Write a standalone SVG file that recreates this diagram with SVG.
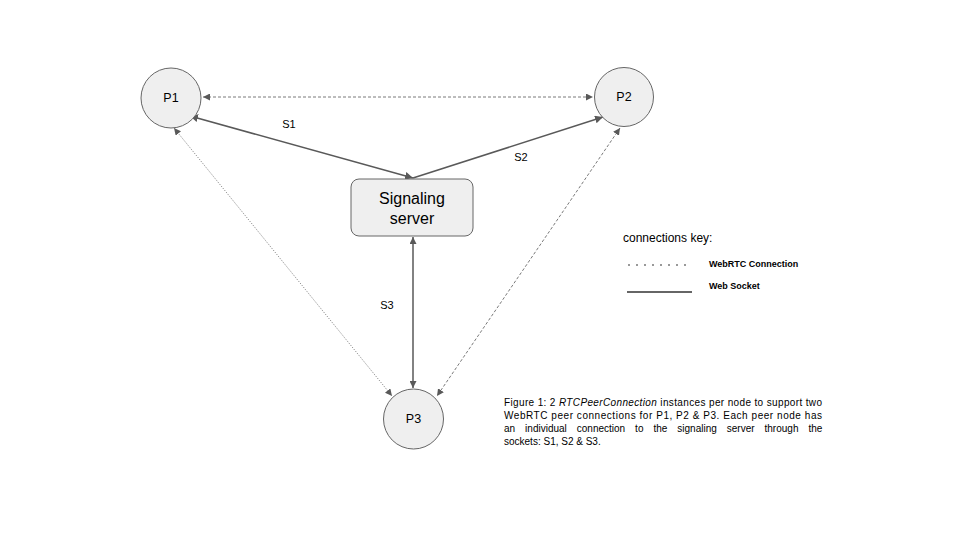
<svg xmlns="http://www.w3.org/2000/svg" width="960" height="540" viewBox="0 0 960 540">
<defs>
<style>
.node{fill:#efefef;stroke:#666;stroke-width:1}
.lbl{font-family:"Liberation Sans",Arial,sans-serif;fill:#000}
.ws{stroke:#595959;stroke-width:1.5;fill:none}
.rtc{stroke:#7a7a7a;stroke-width:1;fill:none;stroke-dasharray:3 2}
.rtc2{stroke:#7a7a7a;stroke-width:1;fill:none;stroke-dasharray:1 1.5}
</style>
<marker id="ah" viewBox="0 0 10 10" refX="10" refY="5" markerWidth="7" markerHeight="7" markerUnits="userSpaceOnUse" orient="auto-start-reverse">
<path d="M0,0 L10,5 L0,10 z" fill="#595959"/>
</marker>
<marker id="ahs" viewBox="0 0 10 10" refX="10" refY="5" markerWidth="8" markerHeight="8" markerUnits="userSpaceOnUse" orient="auto-start-reverse">
<path d="M0,0 L10,5 L0,10 z" fill="#595959"/>
</marker>
</defs>
<rect width="960" height="540" fill="#fff"/>
<g id="connectors">
<line class="rtc" x1="203" y1="97" x2="593" y2="97" marker-start="url(#ah)" marker-end="url(#ah)"/>
<line class="rtc2" x1="174" y1="128" x2="392" y2="396" marker-start="url(#ah)" marker-end="url(#ah)"/>
<line class="rtc" x1="620" y1="128" x2="437" y2="396" marker-start="url(#ah)" marker-end="url(#ah)"/>
<line class="ws" x1="190" y1="116" x2="413" y2="178" marker-start="url(#ahs)" marker-end="url(#ahs)"/>
<line class="ws" x1="413" y1="178" x2="603" y2="117" marker-end="url(#ahs)"/>
<line class="ws" x1="413" y1="237" x2="413" y2="388" stroke-width="1.2" marker-start="url(#ah)" marker-end="url(#ah)"/>
<text class="lbl" x="289" y="128" font-size="11" text-anchor="middle">S1</text>
<text class="lbl" x="521" y="161" font-size="11" text-anchor="middle">S2</text>
<text class="lbl" x="387" y="309" font-size="11" text-anchor="middle">S3</text>
</g>
<g id="P1">
<circle class="node" cx="171" cy="98" r="30"/>
<text class="lbl" x="171" y="102" font-size="12.5" text-anchor="middle">P1</text>
</g>
<g id="P2">
<circle class="node" cx="624" cy="97" r="29.5"/>
<text class="lbl" x="624" y="101" font-size="12.5" text-anchor="middle">P2</text>
</g>
<g id="P3">
<circle class="node" cx="413.5" cy="419" r="30"/>
<text class="lbl" x="413.5" y="423" font-size="12.5" text-anchor="middle">P3</text>
</g>
<g id="server">
<rect class="node" x="351" y="179" width="122" height="57" rx="8"/>
<text class="lbl" x="412" y="204" font-size="16" text-anchor="middle">Signaling</text>
<text class="lbl" x="412" y="224" font-size="16" text-anchor="middle">server</text>
</g>
<g id="legend">
<text class="lbl" x="623" y="242" font-size="12">connections key:</text>
<line x1="628" y1="265" x2="688" y2="265" stroke="#999" stroke-width="2" stroke-dasharray="2 6"/>
<text class="lbl" x="709" y="267" font-size="9" font-weight="bold">WebRTC Connection</text>
<line x1="627" y1="292" x2="692" y2="292" stroke="#666" stroke-width="2"/>
<text class="lbl" x="709" y="289" font-size="9" font-weight="bold">Web Socket</text>
</g>
<g id="caption" class="lbl" font-size="10">
<text x="504" y="406" textLength="318" lengthAdjust="spacing">Figure 1: 2 <tspan font-style="italic">RTCPeerConnection</tspan> instances per node to support two</text>
<text x="504" y="419" textLength="318" lengthAdjust="spacing">WebRTC peer connections for P1, P2 &amp; P3. Each peer node has</text>
<text x="504" y="432" word-spacing="7.2">an individual connection to the signaling server through the</text>
<text x="504" y="445">sockets: S1, S2 &amp; S3.</text>
</g>
</svg>
